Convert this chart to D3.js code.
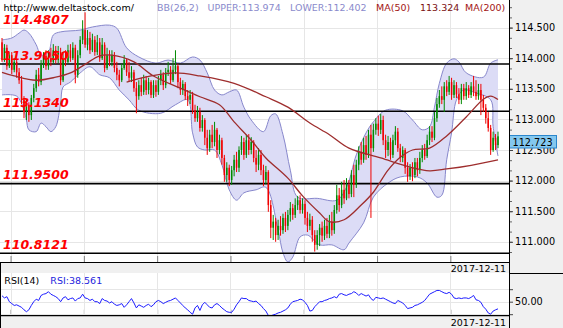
<!DOCTYPE html>
<html><head><meta charset="utf-8">
<script src="https://cdn.jsdelivr.net/npm/d3@7"></script>
<style>
html,body{margin:0;padding:0;background:#fff;}
svg{display:block;}
</style></head><body>
<svg id="chart" width="563" height="328"></svg>
<script>
// USD/JPY-style 4H bars, OHLC
const opens = [114.26,113.97,114.17,113.87,114.05,113.81,113.94,113.77,113.64,113.32,
113.12,113.24,113.07,113.35,113.51,113.73,113.61,113.89,114.04,113.87,
114.00,113.94,114.13,113.97,114.10,113.64,114.00,113.94,114.13,114.00,
114.17,113.73,114.05,114.30,114.46,114.22,114.33,114.13,114.30,114.10,
114.26,114.00,114.22,113.84,114.05,113.94,114.05,113.84,113.73,113.64,
113.84,113.97,113.77,113.68,113.77,113.51,113.38,113.56,113.45,113.64,
113.48,113.61,113.40,113.56,113.45,113.64,113.73,113.56,113.77,113.81,
113.64,113.81,113.87,113.61,113.48,113.58,113.38,113.32,113.40,113.15,
113.02,113.12,112.86,112.99,112.70,112.53,112.75,112.63,112.83,112.50,
112.66,112.37,112.09,112.21,112.01,112.17,112.34,112.21,112.50,112.63,
112.42,112.66,112.50,112.63,112.37,112.26,112.42,112.17,112.01,112.14,
111.60,111.23,111.33,111.11,111.26,111.19,111.39,111.26,111.44,111.55,
111.44,111.60,111.68,111.52,111.62,111.39,111.26,111.36,111.11,110.95,
111.11,111.23,111.10,111.26,111.13,111.33,111.19,111.52,111.76,111.60,
111.85,111.71,111.93,111.78,112.09,111.93,112.26,112.47,112.34,112.58,
112.42,112.75,112.53,112.83,112.93,112.83,112.99,112.66,112.50,112.63,
112.42,112.66,112.80,112.53,112.37,112.50,112.21,112.07,112.21,112.09,
112.30,112.17,112.37,112.50,112.40,112.66,112.80,112.70,113.02,113.25,
113.38,113.32,113.54,113.45,113.61,113.40,113.56,113.41,113.32,113.51,
113.38,113.51,113.40,113.54,113.45,113.38,113.48,113.32,113.19,113.02,
112.86,112.50,112.70,112.58];
const highs = [114.33,114.23,114.22,114.10,114.10,114.00,113.97,113.84,113.71,113.38,
113.32,113.28,113.40,113.58,113.81,113.84,113.97,114.10,114.13,114.13,
114.17,114.23,114.20,114.20,114.17,114.10,114.13,114.22,114.23,114.26,
114.22,114.13,114.36,114.62,114.75,114.46,114.43,114.40,114.36,114.38,
114.33,114.33,114.26,114.17,114.13,114.13,114.10,113.94,113.81,113.91,
114.05,114.00,113.94,113.87,113.81,113.61,113.64,113.68,113.73,113.71,
113.68,113.64,113.64,113.64,113.71,113.81,113.77,113.84,113.94,113.87,
114.00,114.13,113.91,113.68,113.64,113.61,113.48,113.48,113.45,113.24,
113.22,113.19,113.07,113.02,112.83,112.83,112.91,112.96,112.86,112.75,
112.70,112.42,112.30,112.26,112.24,112.42,112.47,112.56,112.73,112.70,
112.75,112.76,112.71,112.66,112.50,112.53,112.50,112.26,112.24,112.17,
111.68,111.44,111.39,111.36,111.42,111.46,111.49,111.52,111.65,111.62,
111.71,111.75,111.76,111.71,111.68,111.49,111.46,111.42,111.19,111.19,
111.29,111.33,111.36,111.39,111.44,111.49,111.60,111.93,111.88,111.98,
112.01,112.04,112.01,112.17,112.26,112.34,112.56,112.63,112.70,112.73,
112.83,112.91,112.93,113.02,113.06,113.09,113.06,112.75,112.73,112.70,
112.75,112.89,112.86,112.60,112.56,112.53,112.30,112.27,112.30,112.37,
112.37,112.47,112.58,112.60,112.75,112.89,112.89,113.12,113.35,113.48,
113.54,113.61,113.64,113.71,113.68,113.64,113.61,113.51,113.58,113.58,
113.61,113.56,113.61,113.71,113.64,113.58,113.58,113.40,113.25,113.12,
112.91,112.80,112.76,112.80];
const lows = [113.94,113.94,113.81,113.84,113.74,113.77,113.68,113.58,113.25,113.02,
112.99,112.96,112.99,113.28,113.45,113.54,113.56,113.84,113.81,113.81,
113.87,113.91,113.91,113.92,113.56,113.61,113.87,113.91,113.94,113.97,
113.59,113.68,114.00,114.23,114.17,114.13,114.07,114.10,114.04,114.05,
113.94,113.97,113.77,113.81,113.87,113.87,113.77,113.64,113.54,113.61,
113.81,113.71,113.61,113.61,113.45,113.10,113.32,113.38,113.40,113.40,
113.41,113.35,113.35,113.37,113.40,113.56,113.48,113.51,113.71,113.58,
113.61,113.74,113.51,113.40,113.40,113.32,113.22,113.25,113.09,112.96,
112.96,112.80,112.80,112.58,112.42,112.47,112.53,112.56,112.37,112.43,
112.26,111.98,111.98,111.91,111.93,112.07,112.14,112.14,112.42,112.34,
112.37,112.42,112.43,112.30,112.14,112.17,112.09,111.91,111.94,111.49,
111.06,111.03,111.00,111.03,111.10,111.13,111.16,111.19,111.33,111.36,
111.39,111.52,111.46,111.46,111.28,111.16,111.19,111.00,110.84,110.87,
110.93,111.00,111.03,111.06,111.06,111.10,111.13,111.46,111.49,111.55,
111.62,111.68,111.71,111.73,111.73,111.88,112.17,112.26,112.29,112.34,
112.37,111.39,112.47,112.75,112.73,112.76,112.58,112.37,112.40,112.34,
112.37,112.58,112.47,112.30,112.30,112.11,111.98,112.01,111.99,112.04,
112.07,112.11,112.30,112.34,112.37,112.58,112.63,112.66,112.96,113.19,
113.25,113.12,113.38,113.40,113.32,113.35,113.35,113.25,113.25,113.32,
113.32,113.35,113.35,113.38,113.32,113.32,113.07,113.12,112.93,112.80,
112.42,112.47,112.50,112.53];
const closes = [113.97,114.17,113.87,114.05,113.81,113.94,113.77,113.64,113.32,113.12,
113.24,113.07,113.35,113.51,113.73,113.61,113.89,114.04,113.87,114.00,
113.94,114.13,113.97,114.10,113.64,114.00,113.94,114.13,114.00,114.17,
113.73,114.05,114.30,114.46,114.22,114.33,114.13,114.30,114.10,114.26,
114.00,114.22,113.84,114.05,113.94,114.05,113.84,113.73,113.64,113.84,
113.97,113.77,113.68,113.77,113.51,113.38,113.56,113.45,113.64,113.48,
113.61,113.40,113.56,113.45,113.64,113.73,113.56,113.77,113.81,113.64,
113.81,113.87,113.61,113.48,113.58,113.38,113.32,113.40,113.15,113.02,
113.12,112.86,112.99,112.70,112.53,112.75,112.63,112.83,112.50,112.66,
112.37,112.09,112.21,112.01,112.17,112.34,112.21,112.50,112.63,112.42,
112.66,112.50,112.63,112.37,112.26,112.42,112.17,112.01,112.14,111.60,
111.23,111.33,111.11,111.26,111.19,111.39,111.26,111.44,111.55,111.44,
111.60,111.68,111.52,111.62,111.39,111.26,111.36,111.11,110.95,111.11,
111.23,111.10,111.26,111.13,111.33,111.19,111.52,111.76,111.60,111.85,
111.71,111.93,111.78,112.09,111.93,112.26,112.47,112.34,112.58,112.42,
112.75,112.53,112.83,112.93,112.83,112.99,112.66,112.50,112.63,112.42,
112.66,112.80,112.53,112.37,112.50,112.21,112.07,112.21,112.09,112.30,
112.17,112.37,112.50,112.40,112.66,112.80,112.70,113.02,113.25,113.38,
113.32,113.54,113.45,113.61,113.40,113.56,113.41,113.32,113.51,113.38,
113.51,113.40,113.54,113.45,113.38,113.48,113.32,113.19,113.02,112.86,
112.50,112.70,112.58,112.723];

// RSI(14), one value per bar
const rsi = [59.5,56,58,50,47,44,45,43,41,37,
34,37,44,50,54,52,60,62,63,66,
62,60,58,55,50,56,58,53,55,56,
51,55,56,62,56,55,52,54,50,50,
47,55,52,51,48,50,46,44,45,47,
41,45,50,55,48,40,45,43,41,44,
46,42,45,50,52,50,47,49,51,52,
54,56,52,48,44,40,37,33,30,40,
44,36,45,49,45,41,40,45,47,44,
40,37,34,33,33,38,45,50,56,55,
55,52,51,50,51,47,44,39,35,28,
27,29,30,32,33,35,37,40,46,50,
51,52,54,53,49,44,35,36,42,46,
50,50,52,53,55,56,58,56,62,63,
61,60,62,63,66,64,60,63,61,59,
61,55,52,57,56,55,56,54,52,50,
48,47,52,50,48,44,39,40,41,44,
45,47,49,52,57,62,64,66,68,68,
66,64,63,65,62,56,55,56,55,56,
56,55,57,60,53,52,49,42,38,32,
30,35,37,38.561];

// Bollinger(26,2) band edges and moving averages, [bar, value]
const upperBand = [[0,114.30],[4,114.33],[7,114.41],[9,114.46],[11,114.41],[14,114.22],[16,114.05],[19,114.10],[21,114.38],[24,114.43],[32,114.46],[37,114.51],[44,114.54],[47,114.49],[51,114.17],[56,114.02],[63,113.92],[68,113.97],[73,113.92],[78,114.02],[81,113.97],[84,113.76],[87,113.48],[90,113.40],[93,113.45],[96,113.48],[99,113.20],[102,112.99],[107,112.80],[110,113.06],[112,113.09],[115,112.75],[118,112.17],[121,111.73],[129,111.71],[137,111.68],[141,111.89],[145,112.42],[149,112.78],[152,112.96],[157,113.15],[164,113.14],[168,112.99],[172,112.83],[175,112.88],[177,113.20],[179,113.59],[182,113.92],[185,113.99],[187,113.94],[190,113.76],[197,113.69],[200,113.92],[203,113.974]];
const lowerBand = [[0,113.40],[6,113.38],[9,113.15],[10,112.99],[11,112.83],[14,112.80],[16,112.94],[18,112.88],[20,112.80],[22,112.88],[24,113.27],[25,113.53],[28,113.61],[32,113.76],[36,113.86],[40,113.73],[44,113.68],[48,113.48],[52,113.32],[56,113.15],[65,113.10],[71,113.24],[76,113.32],[78,112.78],[80,112.55],[83,112.50],[87,112.50],[90,112.26],[93,111.85],[96,111.68],[99,111.80],[104,111.85],[108,111.89],[113,111.19],[115,110.82],[117,110.67],[119,110.75],[122,111.08],[125,111.11],[130,110.95],[135,110.95],[140,110.87],[142,110.98],[148,111.31],[152,111.73],[158,111.96],[163,112.06],[170,112.06],[174,111.96],[178,111.73],[180,111.76],[182,112.34],[184,112.78],[186,113.32],[189,113.48],[194,113.43],[200,113.32],[201,112.88],[203,112.402]];
const ma50 = [[0,113.77],[5,113.71],[14,113.64],[22,113.69],[28,113.76],[34,113.90],[40,114.04],[45,114.05],[54,113.94],[62,113.71],[73,113.51],[81,113.37],[89,113.24],[95,112.96],[102,112.66],[108,112.37],[117,112.04],[123,111.75],[130,111.47],[134,111.33],[140,111.36],[147,111.60],[152,111.81],[158,112.17],[163,112.38],[168,112.50],[175,112.53],[182,112.73],[190,113.04],[197,113.33],[200,113.38],[203,113.324]];
const ma200 = [[51,113.61],[61,113.71],[71,113.76],[81,113.71],[95,113.59],[108,113.37],[117,113.20],[126,112.94],[134,112.75],[142,112.53],[155,112.37],[167,112.22],[175,112.16],[182,112.19],[192,112.25],[203,112.34]];

// support / resistance levels
const levelValues = [113.9050, 113.1340, 111.9500, 110.8121];
const periodHigh = 114.4807;

const priceTicks = [111.0, 111.5, 112.0, 112.5, 113.0, 113.5, 114.0, 114.5];
const rsiTicks = [30, 50, 70];
const weekStarts = [4, 34, 64, 94, 124, 154, 184];
const lastDate = "2017-12-11";
const siteUrl = "http://www.deltastock.com/";

const W = 563, H = 328;
const plotR = 509;
const mainB = 262;
const rsiT = 273, rsiB = 315.7;
const FONT = '"DejaVu Sans", Verdana, sans-serif';
const UP = '#008a00', DOWN = '#f00000';

const N = closes.length;
const x = d3.scaleLinear().domain([0, N - 1]).range([2, 498]);
const y = d3.scaleLinear().domain([110.67, 114.951]).range([mainB, 0]);
const yr = d3.scaleLinear().domain([27.6, 95.9]).range([rsiB, rsiT]);
const f3 = d3.format('.3f');

const svg = d3.select('#chart').style('font-family', FONT);
const defs = svg.append('defs');
defs.append('clipPath').attr('id', 'clipMain').append('rect')
  .attr('x', 0).attr('y', 0).attr('width', plotR).attr('height', mainB);
defs.append('clipPath').attr('id', 'clipRsi').append('rect')
  .attr('x', 0).attr('y', rsiT).attr('width', plotR).attr('height', rsiB - rsiT);

// backgrounds
svg.append('rect').attr('width', W).attr('height', H).attr('fill', '#fff');
svg.append('rect').attr('x', plotR).attr('y', 0).attr('width', W - plotR).attr('height', H).attr('fill', '#f0f0f0');
svg.append('rect').attr('x', 0).attr('y', mainB).attr('width', plotR).attr('height', rsiT - mainB).attr('fill', '#f0f0f0');
svg.append('rect').attr('x', 0).attr('y', rsiB).attr('width', plotR).attr('height', H - rsiB).attr('fill', '#f0f0f0');

const gridX = d => Math.round(x(d - 0.5)) + 0.5;

// ---- price panel ----
const main = svg.append('g').attr('clip-path', 'url(#clipMain)');
main.selectAll('line.hg').data(priceTicks).join('line')
  .attr('x1', 0).attr('x2', plotR)
  .attr('y1', d => Math.round(y(d)) + 0.5).attr('y2', d => Math.round(y(d)) + 0.5)
  .attr('stroke', '#e6e6e6');
main.selectAll('line.vg').data(weekStarts).join('line')
  .attr('x1', gridX).attr('x2', gridX).attr('y1', 0).attr('y2', mainB)
  .attr('stroke', '#e6e6e6');

const bandLine = d3.line().x(d => x(d[0])).y(d => y(d[1])).curve(d3.curveCatmullRom.alpha(0.5));
const upperD = bandLine(upperBand);
const lowerRev = bandLine(lowerBand.slice().reverse());
main.append('path').attr('d', upperD + 'L' + lowerRev.slice(1) + 'Z')
  .attr('fill', '#dcdcf6').attr('stroke', 'none');
main.append('path').attr('d', upperD).attr('fill', 'none').attr('stroke', '#8787cc').attr('stroke-width', 1);
main.append('path').attr('d', bandLine(lowerBand)).attr('fill', 'none').attr('stroke', '#8787cc').attr('stroke-width', 1);

main.selectAll('line.lvl').data(levelValues).join('line')
  .attr('x1', 0).attr('x2', plotR)
  .attr('y1', d => y(d)).attr('y2', d => y(d))
  .attr('stroke', '#000').attr('stroke-width', 1.6);

const bars = d3.range(N).map(i => ({i, o: opens[i], h: highs[i], l: lows[i], c: closes[i]}));
const col = d => d.c >= d.o ? UP : DOWN;
main.selectAll('line.wick').data(bars).join('line')
  .attr('x1', d => x(d.i)).attr('x2', d => x(d.i))
  .attr('y1', d => y(d.h)).attr('y2', d => y(d.l))
  .attr('stroke', col).attr('stroke-width', 1);
main.selectAll('rect.body').data(bars).join('rect')
  .attr('x', d => x(d.i) - 0.75).attr('width', 1.5)
  .attr('y', d => y(Math.max(d.o, d.c)))
  .attr('height', d => Math.max(1, Math.abs(y(d.o) - y(d.c))))
  .attr('fill', col);

const maLine = d3.line().x(d => x(d[0])).y(d => y(d[1])).curve(d3.curveCatmullRom.alpha(0.5));
main.append('path').attr('d', maLine(ma200)).attr('fill', 'none').attr('stroke', '#9e2d2d').attr('stroke-width', 1.3);
main.append('path').attr('d', maLine(ma50)).attr('fill', 'none').attr('stroke', '#9e2d2d').attr('stroke-width', 1.3);

// level labels
const lvlText = svg.append('g').attr('font-family', FONT).attr('font-weight', 'bold')
  .attr('font-style', 'italic').attr('font-size', 12.5).attr('fill', '#ff0000');
lvlText.selectAll('text').data([periodHigh, ...levelValues]).join('text')
  .attr('x', 3).attr('y', d => y(d) - 4.5).text(d => d.toFixed(4));

// x ticks on panel bottoms
const xTickVals = weekStarts.map(d => d - 0.5);
const xAxisMain = d3.axisBottom(x).tickValues(xTickVals).tickSizeInner(-6).tickSizeOuter(0).tickFormat('');
const gx1 = svg.append('g').attr('transform', `translate(0,${mainB})`).call(xAxisMain);
const gx2 = svg.append('g').attr('transform', `translate(0,${rsiB})`).call(xAxisMain);
[gx1, gx2].forEach(g => {
  g.select('.domain').remove();
  g.selectAll('.tick line').attr('stroke', '#808080');
});
svg.append('line').attr('x1', 0).attr('x2', plotR).attr('y1', mainB + 0.5).attr('y2', mainB + 0.5).attr('stroke', '#000').attr('stroke-width', 1.2);

// price axis
const minorTicks = d3.range(110.5, 115.01, 0.5 / 3).filter(v => v > 110.68 && v < 114.95);
const gyMinor = svg.append('g').attr('transform', `translate(${plotR},0)`)
  .call(d3.axisRight(y).tickValues(minorTicks).tickSize(3).tickFormat(''));
gyMinor.select('.domain').remove();
gyMinor.selectAll('.tick line').attr('stroke', '#666');
const gy = svg.append('g').attr('transform', `translate(${plotR},0)`)
  .call(d3.axisRight(y).tickValues(priceTicks).tickSize(4).tickPadding(2).tickFormat(f3));
gy.select('.domain').remove();
gy.selectAll('.tick line').attr('stroke', '#444');
gy.selectAll('.tick text').attr('font-family', FONT).attr('font-size', 9.7).attr('fill', '#000');

// last price tag
const lastC = closes[N - 1];
const tagY = Math.round(y(lastC)) - 0.5;
svg.append('rect').attr('x', plotR + 0.5).attr('y', tagY).attr('width', 47).attr('height', 12.5)
  .attr('fill', '#84c8ef').attr('stroke', '#2a86cc');
svg.append('text').attr('x', plotR + 3.5).attr('y', tagY + 10).attr('font-size', 9.7)
  .attr('fill', '#000').text(f3(lastC));

// header
const hdr = svg.append('g').attr('font-size', 9.5);
hdr.append('text').attr('x', 3.5).attr('y', 11).attr('fill', '#000').text(siteUrl);
hdr.append('text').attr('x', 157).attr('y', 11).attr('fill', '#8a8acc').text('BB(26,2)');
hdr.append('text').attr('x', 207.5).attr('y', 11).attr('fill', '#8a8acc').text('UPPER:' + f3(upperBand[upperBand.length - 1][1]));
hdr.append('text').attr('x', 290).attr('y', 11).attr('fill', '#8a8acc').text('LOWER:' + f3(lowerBand[lowerBand.length - 1][1]));
hdr.append('text').attr('x', 376).attr('y', 11).attr('fill', '#a31515').text('MA(50)');
hdr.append('text').attr('x', 420).attr('y', 11).attr('fill', '#7b1010').text(f3(ma50[ma50.length - 1][1]));
hdr.append('text').attr('x', 465).attr('y', 11).attr('fill', '#a31515').text('MA(200)');

// date strips
svg.append('text').attr('x', 506).attr('y', 271.5).attr('text-anchor', 'end').attr('font-size', 9.5).attr('fill', '#000').text(lastDate);
svg.append('text').attr('x', 506).attr('y', 325.5).attr('text-anchor', 'end').attr('font-size', 9.5).attr('fill', '#000').text(lastDate);

// ---- RSI panel ----
const rp = svg.append('g').attr('clip-path', 'url(#clipRsi)');
rp.selectAll('line.hg').data(rsiTicks).join('line')
  .attr('x1', 0).attr('x2', plotR)
  .attr('y1', d => Math.round(yr(d)) + 0.5).attr('y2', d => Math.round(yr(d)) + 0.5)
  .attr('stroke', '#e6e6e6');
rp.selectAll('line.vg').data(weekStarts).join('line')
  .attr('x1', gridX).attr('x2', gridX).attr('y1', rsiT).attr('y2', rsiB)
  .attr('stroke', '#e6e6e6');
rp.append('path').datum(rsi)
  .attr('d', d3.line().x((d, i) => x(i)).y(d => yr(d)))
  .attr('fill', 'none').attr('stroke', '#1c1cff').attr('stroke-width', 1);
svg.append('line').attr('x1', 0).attr('x2', plotR).attr('y1', rsiB).attr('y2', rsiB).attr('stroke', '#000').attr('stroke-width', 1.2);

const gyr = svg.append('g').attr('transform', `translate(${plotR},0)`)
  .call(d3.axisRight(yr).tickValues(rsiTicks).tickSize(4).tickPadding(2).tickFormat(d => d === 50 ? d.toFixed(2) : ''));
gyr.select('.domain').remove();
gyr.selectAll('.tick line').attr('stroke', '#444');
gyr.selectAll('.tick text').attr('font-family', FONT).attr('font-size', 9.7).attr('fill', '#000');

svg.append('text').attr('x', 4.3).attr('y', 284).attr('font-size', 9.5).attr('fill', '#000').text('RSI(14)');
svg.append('text').attr('x', 50.3).attr('y', 284).attr('font-size', 9.5).attr('fill', '#2424dd').text('RSI:' + f3(rsi[N - 1]));

// frame
svg.append('line').attr('x1', plotR + 0.5).attr('x2', plotR + 0.5).attr('y1', 0).attr('y2', H).attr('stroke', '#000');
svg.append('line').attr('x1', plotR).attr('x2', W).attr('y1', rsiT + 0.5).attr('y2', rsiT + 0.5).attr('stroke', '#000');
svg.append('line').attr('x1', 0.5).attr('x2', 0.5).attr('y1', mainB).attr('y2', H).attr('stroke', '#000');
</script>
</body></html>
